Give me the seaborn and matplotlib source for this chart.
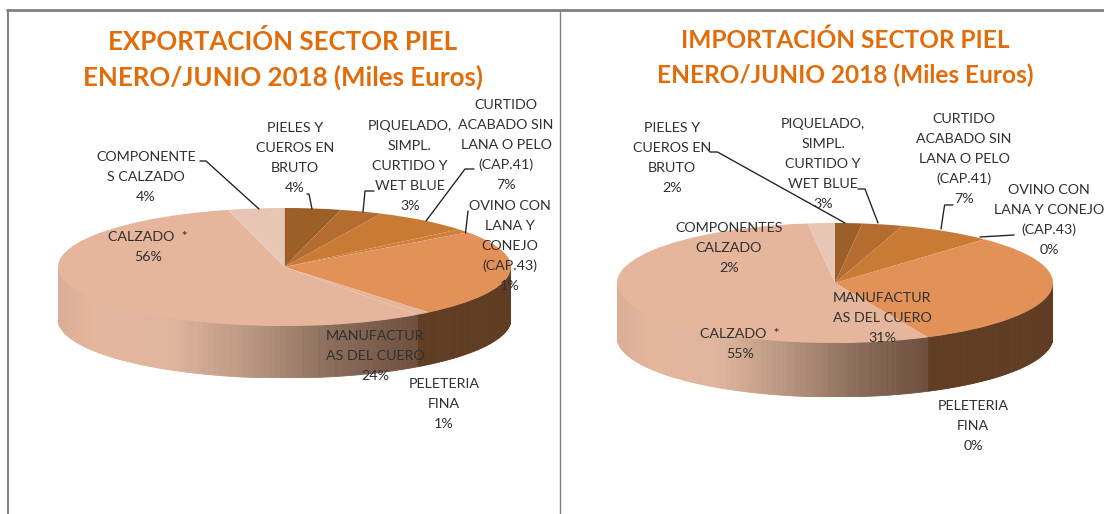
import numpy as np
import matplotlib
matplotlib.use("Agg")
import matplotlib.pyplot as plt
from matplotlib.lines import Line2D
from matplotlib.colors import to_hex
import seaborn as sns

W, H = 1104, 514

sectors = ["PIELES", "PIQUELADO", "CURTIDO", "OVINO", "MANUFACTURAS", "PELETERIA", "CALZADO", "COMPONENTES"]
export_values = [4, 3, 7, 1, 24, 1, 56, 4]
import_values = [2, 3, 7, 0, 31, 0, 55, 2]
title_export = "EXPORTACIÓN SECTOR PIEL\nENERO/JUNIO 2018 (Miles Euros)"
title_import = "IMPORTACIÓN SECTOR PIEL\nENERO/JUNIO 2018 (Miles Euros)"
slice_colors = ["#9C5F28", "#B56C30", "#C97A35", "#D0803A", "#E29259", "#E5B59C", "#E5B59C", "#E8C6B5"]
label_colors = "#303030"

export_labels = [
    ("COMPONENTE\nS CALZADO\n4%", 146, 177),
    ("PIELES Y\nCUEROS EN\nBRUTO\n4%", 295, 158),
    ("PIQUELADO,\nSIMPL.\nCURTIDO Y\nWET BLUE\n3%", 410, 166),
    ("CURTIDO\nACABADO SIN\nLANA O PELO\n(CAP.41)\n7%", 506, 145),
    ("OVINO CON\nLANA Y\nCONEJO\n(CAP.43)\n1%", 510, 246),
    ("MANUFACTUR\nAS DEL CUERO\n24%", 375, 356),
    ("PELETERIA\nFINA\n1%", 444, 404),
    ("CALZADO  *\n56%", 148, 247),
]
import_labels = [
    ("PIELES Y\nCUEROS EN\nBRUTO\n2%", 672, 158),
    ("PIQUELADO,\nSIMPL.\nCURTIDO Y\nWET BLUE\n3%", 823, 164),
    ("CURTIDO\nACABADO SIN\nLANA O PELO\n(CAP.41)\n7%", 964, 159),
    ("OVINO CON\nLANA Y CONEJO\n(CAP.43)\n0%", 1049, 220),
    ("COMPONENTES\nCALZADO\n2%", 729, 248),
    ("MANUFACTUR\nAS DEL CUERO\n31%", 882, 318),
    ("CALZADO  *\n55%", 740, 344),
    ("PELETERIA\nFINA\n0%", 973, 426),
]
leaders = [
    [(200, 161), (206, 161), (259, 209)],
    [(307, 194), (309, 194), (312, 209)],
    [(374, 191), (365, 191), (363, 212)],
    [(474, 169), (465, 169), (426, 221)],
    [(468, 211), (465.5, 233)],
    [(710, 152), (717.5, 152), (845, 223)],
    [(858, 189), (865, 189), (878, 223)],
    [(953, 205), (944.6, 205), (941, 229)],
    [(1014, 235), (980, 237)],
]

sns.set_theme(style="white")
plt.rcParams["font.family"] = ["Lato", "DejaVu Sans"]
fig = plt.figure(figsize=(W / 100, H / 100), dpi=100, facecolor="white")

dark_wall = "#5F3C22"
calzado_ramp = sns.blend_palette(["#6F5040", "#8A6C5A", "#B8957F", "#E0B59E", "#E5B59C"], 60)
edge_ramp = sns.blend_palette(["#DBAE97", "#E5B59C"], 20)


def wall_color(idx, x, x_start):
    if idx <= 5:
        return dark_wall
    if x < -0.85:
        return to_hex(edge_ramp[int(np.clip((x + 1) / 0.15 * 19, 0, 19))])
    frac = np.clip((x_start - x) / (x_start + 0.85), 0, 1)
    return to_hex(calzado_ramp[int(frac * 59)])


def draw_pie(values, cx, cy, rx, ry, depth):
    top = cy - ry
    bottom = cy + ry + depth
    ax = fig.add_axes([(cx - rx) / W, 1 - bottom / H, 2 * rx / W, (bottom - top) / H])
    d = depth / ry
    total = sum(values)
    edges = np.concatenate([[0], np.cumsum(values)]) / total * 2 * np.pi
    # side wall, drawn slice by slice from the same values
    for i in range(len(values)):
        a0, a1 = max(edges[i], np.pi / 2), min(edges[i + 1], 3 * np.pi / 2)
        if a1 <= a0:
            continue
        n = max(2, int((a1 - a0) / 0.012))
        grid = np.linspace(a0, a1, n + 1)
        x_start = np.sin(a0)
        for t0, t1 in zip(grid[:-1], grid[1:]):
            xs = np.sin([t0, t1])
            ys = np.cos([t0, t1])
            c = wall_color(i, xs.mean(), x_start)
            ax.fill(np.r_[xs, xs[::-1]], np.r_[ys, ys[::-1] - d], color=c, lw=0.6, zorder=1)
    wedges, _ = ax.pie(values, colors=slice_colors, startangle=90, counterclock=False,
                       radius=1, wedgeprops={"linewidth": 0})
    for w in wedges:
        w.set_zorder(2)
    ax.set_aspect("auto")
    ax.set_xlim(-1, 1)
    ax.set_ylim(-1 - d, 1)
    ax.axis("off")


draw_pie(export_values, 284.5, 267, 226.5, 59, 52)
draw_pie(import_values, 835, 283, 218, 60, 54)


def px_line(pts, color, lw):
    xs = [p[0] / W for p in pts]
    ys = [1 - p[1] / H for p in pts]
    fig.add_artist(Line2D(xs, ys, color=color, lw=lw, transform=fig.transFigure, zorder=2.5))


px_line([(8, 514), (8, 10)], "#808080", 1.4)
px_line([(7, 10), (1104, 10)], "#808080", 2.0)
px_line([(560, 10), (560, 514)], "#808080", 1.0)
for pts in leaders:
    px_line(pts, "#1E1E1E", 0.95)

for txt, x, y in export_labels + import_labels:
    fig.text(x / W, 1 - y / H, txt, ha="center", va="center", ma="center",
             fontsize=10.3, linespacing=1.78, color=label_colors, zorder=3)

fig.text(283 / W, 1 - 59.5 / H, title_export, ha="center", va="center", ma="center",
         fontsize=18.6, fontweight="bold", color="#E36C0A", linespacing=1.55, zorder=3)
fig.text(845 / W, 1 - 58 / H, title_import, ha="center", va="center", ma="center",
         fontsize=17.6, fontweight="bold", color="#E36C0A", linespacing=1.58, zorder=3)

fig.savefig("out.png", dpi=100, facecolor="white")
